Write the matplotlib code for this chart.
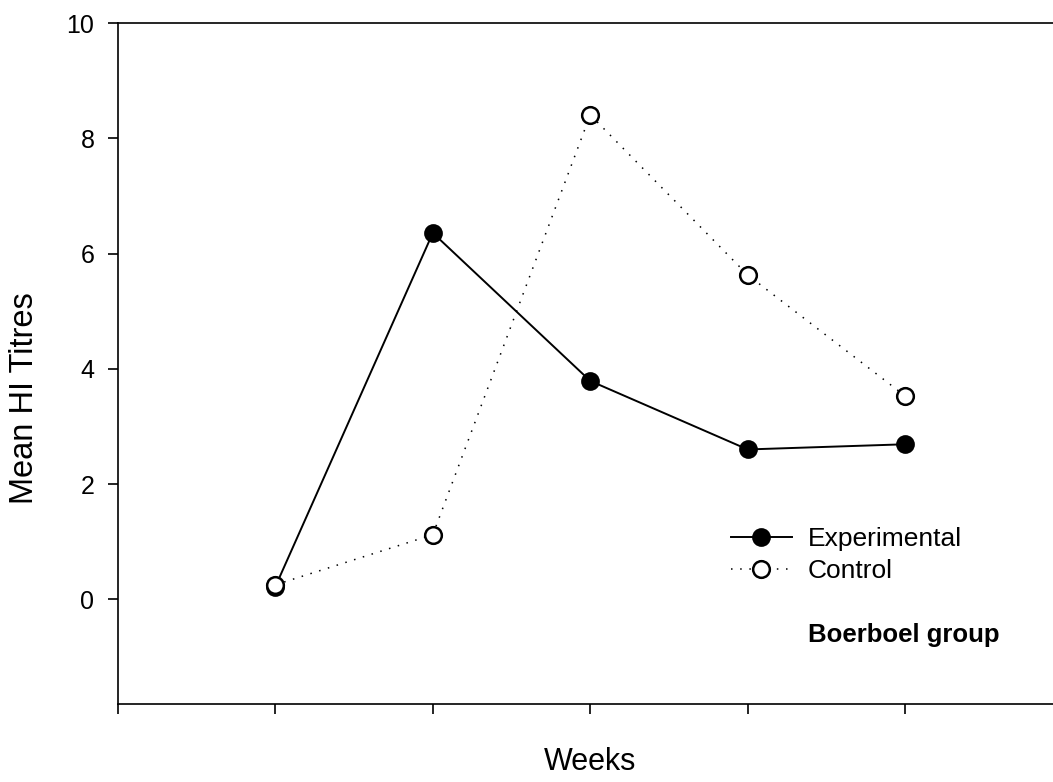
import matplotlib
matplotlib.use("Agg")
import matplotlib.pyplot as plt

plt.rcParams['font.family'] = ['Liberation Sans', 'DejaVu Sans']

# mean HI titres per sampling week
weeks = [1, 2, 3, 4, 5]
experimental = [0.22, 6.36, 3.79, 2.60, 2.69]
control = [0.25, 1.12, 8.41, 5.63, 3.53]

fig = plt.figure(figsize=(10.53, 7.82), dpi=100)
# axes runs a little past the right edge, like the original export
ax = fig.add_axes([118 / 1053, 1 - 704 / 782, (1062.5 - 118) / 1053, (704 - 23.3) / 782])

ax.plot(weeks, experimental, color='black', lw=1.4, marker='o', ms=12,
        mfc='black', mec='black', mew=1.5, label='Experimental', zorder=3)
ax.plot(weeks, control, color='black', lw=1.1, ls=(0, (1, 5)), marker='o', ms=12,
        mfc='white', mec='black', mew=1.8, label='Control', zorder=4)

ax.set_xlim(0, 6)
ax.set_ylim(-1.82, 10)
ax.set_xticks(range(0, 7))
ax.set_xticklabels([])
ax.set_yticks([0, 2, 4, 6, 8, 10])

for s in ax.spines.values():
    s.set_linewidth(1.2)
ax.spines['right'].set_visible(False)
ax.tick_params(axis='both', direction='out', length=7, width=1.2,
               labelsize=18, pad=10)

fig.text(590 / 1053, 1 - 762 / 782, 'Weeks', fontsize=22, ha='center', va='center')
fig.text(25 / 1053, 1 - 398 / 782, 'Mean HI Titres', fontsize=23.5, ha='center',
         va='center', rotation=90)

leg = ax.legend(loc='upper left', bbox_to_anchor=(731 / 1053, 1 - 527 / 782),
                bbox_transform=fig.transFigure, frameon=False, fontsize=19,
                handlelength=2.3, handletextpad=0.6, labelspacing=0.3,
                borderpad=0, borderaxespad=0)

fig.text(808 / 1053, 1 - 635 / 782, 'Boerboel group', fontsize=18.5,
         fontweight='bold', ha='left', va='center')

fig.savefig('out.png', dpi=100)
